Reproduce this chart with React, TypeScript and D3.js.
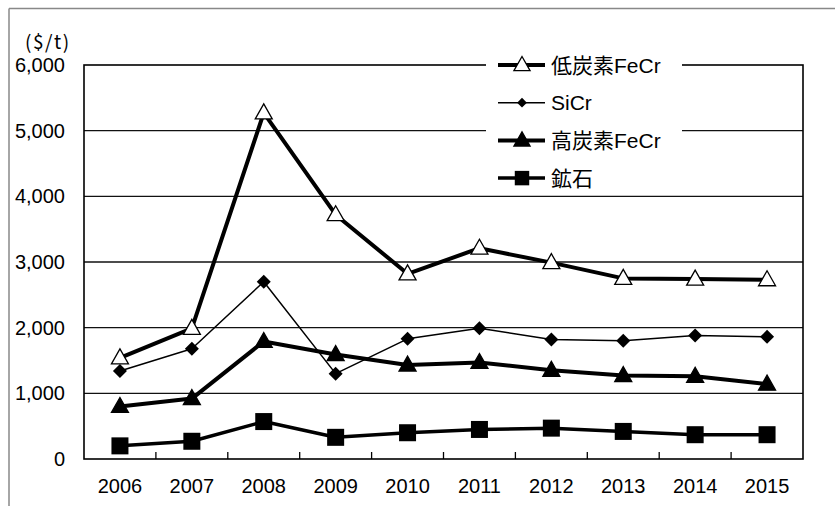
import React from 'react';
import * as d3 from 'd3';

const years = ['2006', '2007', '2008', '2009', '2010', '2011', '2012', '2013', '2014', '2015'];
const lowCarbonFeCr = [1540, 1990, 5270, 3720, 2820, 3210, 2990, 2750, 2740, 2730];
const siCr = [1340, 1680, 2700, 1300, 1830, 1990, 1820, 1800, 1880, 1860];
const highCarbonFeCr = [800, 920, 1790, 1590, 1430, 1470, 1350, 1270, 1260, 1140];
const ore = [200, 270, 570, 330, 400, 450, 470, 420, 370, 370];
const yTicks = [0, 1000, 2000, 3000, 4000, 5000, 6000];
const seriesNames = ['低炭素FeCr', 'SiCr', '高炭素FeCr', '鉱石'];

const FONT = '"Liberation Sans", Arial, "Noto Sans CJK JP", sans-serif';

type MarkerKind = 'triOpen' | 'diamond' | 'triFilled' | 'square';

const series: { name: string; values: number[]; width: number; marker: MarkerKind }[] = [
  { name: seriesNames[0], values: lowCarbonFeCr, width: 4, marker: 'triOpen' },
  { name: seriesNames[1], values: siCr, width: 1.5, marker: 'diamond' },
  { name: seriesNames[2], values: highCarbonFeCr, width: 4, marker: 'triFilled' },
  { name: seriesNames[3], values: ore, width: 3.5, marker: 'square' },
];

function Marker({ kind, x, y, scale = 1 }: { kind: MarkerKind; x: number; y: number; scale?: number }) {
  if (kind === 'triOpen' || kind === 'triFilled') {
    const w = 17 * scale;
    const h = 15 * scale;
    const pts = `${x},${y - h * 0.6} ${x + w / 2},${y + h * 0.4} ${x - w / 2},${y + h * 0.4}`;
    return (
      <polygon
        points={pts}
        fill={kind === 'triOpen' ? '#fff' : '#000'}
        stroke="#000"
        strokeWidth={1.3}
        strokeLinejoin="miter"
      />
    );
  }
  if (kind === 'diamond') {
    const r = 7 * scale;
    return <polygon points={`${x},${y - r} ${x + r},${y} ${x},${y + r} ${x - r},${y}`} fill="#000" />;
  }
  const s = 17 * scale;
  return <rect x={x - s / 2} y={y - s / 2} width={s} height={s} fill="#000" />;
}

export default function App() {
  const width = 835;
  const height = 506;
  const left = 84;
  const right = 803;
  const top = 65;
  const bottom = 459;

  const x = d3.scaleBand<string>().domain(years).range([left, right]);
  const y = d3.scaleLinear().domain([0, 6000]).range([bottom, top]);
  const cx = (yr: string) => x(yr)! + x.bandwidth() / 2;

  const line = d3
    .line<number>()
    .x((_, i) => cx(years[i]))
    .y((d) => y(d));

  const fmt = d3.format(',');

  const legendX = 486;
  const legendTop = 45;
  const rowY = (i: number) => 65 + i * 37.7;

  return (
    <svg
      width={width}
      height={height}
      style={{ position: 'absolute', left: 0, top: 0, background: '#fff' }}
      fontFamily={FONT}
    >
      {/* outer frame (cropped) */}
      <line x1={9} y1={8.5} x2={width} y2={8.5} stroke="#888" strokeWidth={1.5} />
      <line x1={9} y1={8.5} x2={9} y2={height} stroke="#888" strokeWidth={1.5} />

      {/* gridlines */}
      {yTicks.slice(1, -1).map((t) => (
        <line key={t} x1={left} x2={right} y1={y(t)} y2={y(t)} stroke="#111" strokeWidth={1.3} />
      ))}

      {/* plot frame */}
      <rect x={left} y={top} width={right - left} height={bottom - top} fill="none" stroke="#000" strokeWidth={1.6} />

      {/* x ticks between categories */}
      {years.slice(1).map((yr) => (
        <line key={yr} x1={x(yr)!} x2={x(yr)!} y1={bottom} y2={bottom - 7} stroke="#000" strokeWidth={1.3} />
      ))}

      {/* y tick labels */}
      {yTicks.map((t) => (
        <text key={t} x={65} y={y(t)} fontSize={20} textAnchor="end" dominantBaseline="central" fill="#000">
          {fmt(t)}
        </text>
      ))}
      <text x={25} y={40} fontSize={19} fontFamily='"Noto Sans CJK JP", sans-serif' dominantBaseline="central" letterSpacing={1.5}>
        ($/t)
      </text>

      {/* x labels */}
      {years.map((yr) => (
        <text key={yr} x={cx(yr)} y={493} fontSize={20} textAnchor="middle" fill="#000">
          {yr}
        </text>
      ))}

      {/* series */}
      {series.map((s) => (
        <g key={s.name}>
          <path d={line(s.values) ?? ''} fill="none" stroke="#000" strokeWidth={s.width} strokeLinejoin="round" />
          {s.values.map((v, i) => (
            <Marker key={i} kind={s.marker} x={cx(years[i])} y={y(v)} />
          ))}
        </g>
      ))}

      {/* legend */}
      <rect x={legendX} y={legendTop} width={196} height={150} fill="#fff" />
      {series.map((s, i) => (
        <g key={s.name}>
          <line x1={498} x2={545} y1={rowY(i)} y2={rowY(i)} stroke="#000" strokeWidth={s.width} />
          <Marker kind={s.marker} x={522} y={rowY(i)} scale={s.marker === 'square' ? 0.85 : s.marker === 'diamond' ? 0.7 : 0.95} />
          <text x={551} y={rowY(i)} fontSize={21} dominantBaseline="central" fill="#000">
            {s.name}
          </text>
        </g>
      ))}
    </svg>
  );
}
